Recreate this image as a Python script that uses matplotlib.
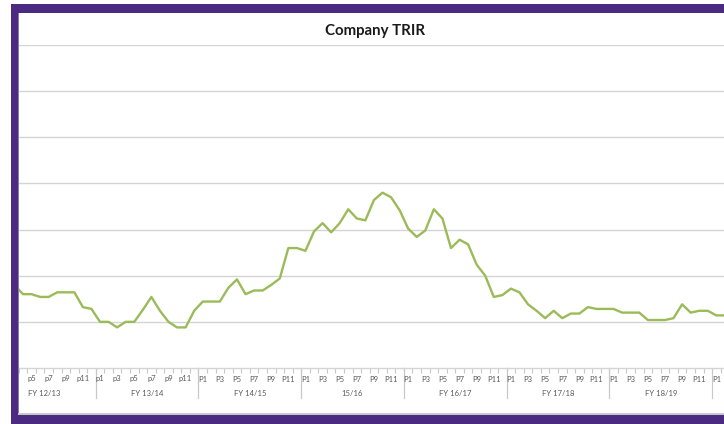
import matplotlib
matplotlib.use("Agg")
import matplotlib.pyplot as plt
from matplotlib.patches import Rectangle
import matplotlib.transforms as mtransforms

# ---------------- data ----------------
title = "Company TRIR"
fiscal_years = ["FY 12/13", "FY 13/14", "FY 14/15", "15/16", "FY 16/17", "FY 17/18", "FY 18/19"]
periods_lower = ["p1", "p2", "p3", "p4", "p5", "p6", "p7", "p8", "p9", "p10", "p11", "p12"]
periods_upper = ["P1", "P2", "P3", "P4", "P5", "P6", "P7", "P8", "P9", "P10", "P11", "P12"]
next_year_periods = ["P1", "P2"]  # FY 19/20 (partly visible)

# TRIR from FY 12/13 p3 onward (first visible point)
first_index = 2
trir = [0.90, 0.80, 0.80, 0.77, 0.77, 0.82, 0.82, 0.82, 0.66, 0.64,          # FY12/13 p3-p12
        0.50, 0.50, 0.44, 0.50, 0.50, 0.63, 0.77, 0.62, 0.50, 0.44, 0.44, 0.62,  # FY13/14
        0.72, 0.72, 0.72, 0.87, 0.96, 0.80, 0.84, 0.84, 0.90, 0.97, 1.30, 1.30,  # FY14/15
        1.27, 1.48, 1.57, 1.47, 1.57, 1.72, 1.62, 1.60, 1.82, 1.90, 1.85, 1.71,  # 15/16
        1.51, 1.42, 1.49, 1.72, 1.62, 1.30, 1.39, 1.34, 1.12, 1.00, 0.77, 0.79,  # FY16/17
        0.86, 0.82, 0.69, 0.62, 0.54, 0.62, 0.54, 0.59, 0.59, 0.66, 0.64, 0.64,  # FY17/18
        0.64, 0.60, 0.60, 0.60, 0.52, 0.52, 0.52, 0.54, 0.69, 0.60, 0.62, 0.62,  # FY18/19
        0.57, 0.57]                                                              # FY19/20 P1-P2

# build category list
categories = []
for k, fy in enumerate(fiscal_years):
    plist = periods_lower if k < 2 else periods_upper
    categories += list(plist)
categories += next_year_periods

# ---------------- figure ----------------
W, H = 724, 424
fig = plt.figure(figsize=(W / 100, H / 100), dpi=100)
fig.patch.set_facecolor("white")

ax_left_px, ax_right_px = 18, 724
ax_top_px, ax_bottom_px = 45, 368
ax = fig.add_axes([ax_left_px / W, 1 - ax_bottom_px / H,
                   (ax_right_px - ax_left_px) / W, (ax_bottom_px - ax_top_px) / H])

# px = -2.7 + 8.56*i  -> x limits
x0 = (ax_left_px + 2.7) / 8.56
x1 = (ax_right_px + 2.7) / 8.56

xs = list(range(first_index, first_index + len(trir)))
ax.plot(xs, trir, color="#9BBB59", lw=1.7, solid_joinstyle="round", zorder=3)

# gridlines
ax.set_yticks([0.5 * k for k in range(1, 8)])
ax.yaxis.grid(True, color="#D4D4D4", lw=1.0)
ax.set_axisbelow(True)
ax.tick_params(axis="y", left=False, labelleft=False)
for s in ["left", "right", "top"]:
    ax.spines[s].set_visible(False)
ax.spines["bottom"].set_color("#D4D4D4")
ax.spines["bottom"].set_linewidth(1.0)

# category ticks (boundaries)
ax.set_xticks([i - 0.5 for i in range(len(categories) + 1)])
ax.tick_params(axis="x", direction="out", length=3.5, width=0.8, color="#C8C8C8",
               labelbottom=False)
ax.set_xlim(x0, x1)
ax.set_ylim(0, 3.5)

trans = mtransforms.blended_transform_factory(ax.transData, ax.transAxes)
ax_h = ax_bottom_px - ax_top_px
lbl_font = "Lato"
for i, lab in enumerate(categories):
    if i % 2 == 0 and x0 - 0.2 <= i <= x1 + 0.6:
        ax.text(i, -11 / ax_h, lab, transform=trans, ha="center", va="center",
                fontsize=5.5, color="#595959", family=lbl_font, clip_on=False)

# fiscal year group labels and separators
for k, fy in enumerate(fiscal_years):
    start = 12 * k - 0.5
    end = start + 12
    ax.text((start + end) / 2, -25 / ax_h, fy, transform=trans, ha="center", va="center",
            fontsize=5.5, color="#595959", family=lbl_font, clip_on=False)
    for b in (start, end):
        if x0 <= b <= x1:
            ax.plot([b, b], [0, -30 / ax_h], transform=trans, color="#C8C8C8", lw=0.8,
                    clip_on=False)

# title
fig.text(375 / W, 1 - 31 / H, title, ha="center", va="center", fontsize=10.8,
         fontweight="bold", family="Lato", color="#1A1A1A")

# purple frame
purple = "#4B2A82"
def frac_rect(x, y, w, h, color, z=10):
    fig.add_artist(Rectangle((x / W, 1 - (y + h) / H), w / W, h / H,
                             transform=fig.transFigure, color=color, zorder=z, lw=0))

frac_rect(10.5, 412.5, W - 10.5, 2.5, "#C8C8C8", 9)  # shadow above bottom band
frac_rect(10.5, 4, W - 10.5, 8.5, purple)            # top band
frac_rect(10.5, 415, W - 10.5, 9, purple)            # bottom band
frac_rect(10.5, 4, 7.2, H - 4, purple)                # left band
frac_rect(17.7, 12.5, 1.0, 400, "#8D78B5", 9)         # inner light edge

fig.savefig("out.png", dpi=100)
